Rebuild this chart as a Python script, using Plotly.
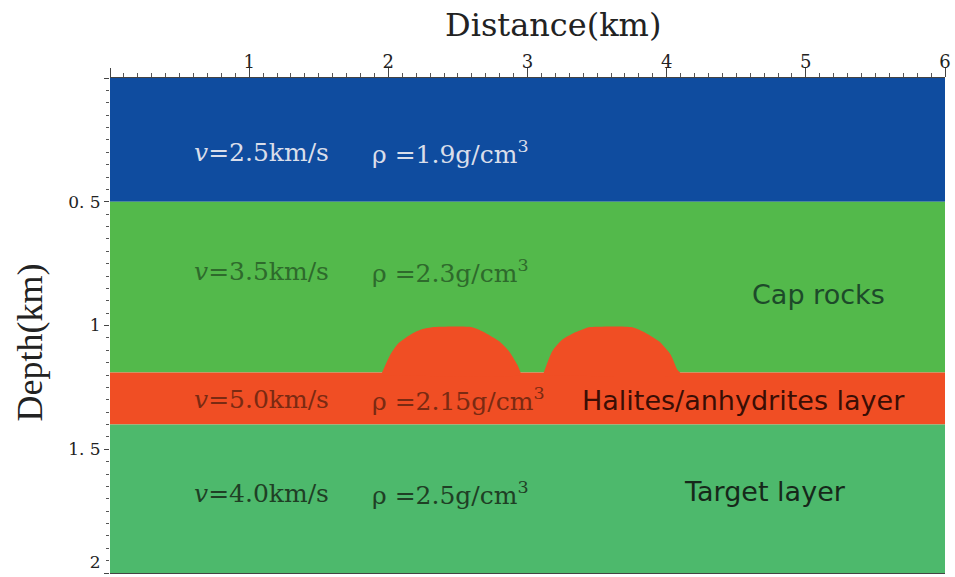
import plotly.graph_objects as go

# ---- data ----
distance_extent_km = [0.0, 6.0]
depth_extent_km = [0.0, 2.0]
interface_depths_km = [0.0, 0.5, 1.19, 1.40, 2.0]   # tops/bottoms of the layers

# top of the two salt domes rising from the halite/anhydrite layer
dome1_x_km = [1.955, 2.014, 2.074, 2.158, 2.230, 2.314, 2.602, 2.698, 2.794, 2.866, 2.926, 2.950]
dome1_depth_km = [1.19, 1.118, 1.071, 1.037, 1.017, 1.007, 1.007, 1.030, 1.063, 1.103, 1.158, 1.19]
dome2_x_km = [3.117, 3.178, 3.250, 3.333, 3.405, 3.441, 3.753, 3.849, 3.945, 4.029, 4.077, 4.096]
dome2_depth_km = [1.19, 1.104, 1.057, 1.030, 1.014, 1.007, 1.007, 1.030, 1.064, 1.118, 1.179, 1.19]

velocity_labels = ["2.5", "3.5", "5.0", "4.0"]
density_labels = ["1.9", "2.3", "2.15", "2.5"]
layer_names = ["Cap rocks", "Halites/anhydrites layer", "Target layer"]

x_tick_values = [0, 1, 2, 3, 4, 5, 6]
x_tick_text = ["", "1", "2", "3", "4", "5", "6"]
y_tick_values = [0, 0.5, 1, 1.5, 2]
y_tick_text = ["", "0. 5", "1", "1. 5", "2<br> "]

# ---- styles ----
BLUE = "#0F4C9F"
CAP_GREEN = "#53B94B"
SALT_RED = "#F04E24"
TARGET_GREEN = "#4DB96C"

x0, x1 = distance_extent_km
d = interface_depths_km

fig = go.Figure()

def band(top, bottom, color):
    fig.add_trace(go.Scatter(x=[x0, x1, x1, x0, x0], y=[top, top, bottom, bottom, top],
                             mode="lines", line=dict(width=0), fill="toself",
                             fillcolor=color, hoverinfo="skip", showlegend=False))

band(d[0], d[1], BLUE)
band(d[1], d[2], CAP_GREEN)
band(d[2], d[3], SALT_RED)
band(d[3], d[4], TARGET_GREEN)

for dx, dy in ((dome1_x_km, dome1_depth_km), (dome2_x_km, dome2_depth_km)):
    fig.add_trace(go.Scatter(x=dx + [dx[-1], dx[0]], y=dy + [d[2] + 0.01, d[2] + 0.01],
                             mode="lines", line=dict(width=0, shape="spline", smoothing=0.6),
                             fill="toself", fillcolor=SALT_RED, hoverinfo="skip", showlegend=False))

SERIF = "DejaVu Serif"
SANS = "DejaVu Sans"

label_rows = [0.30, 0.78, 1.30, 1.68]
label_colors = ["#D9DEEA", "#2E6A2C", "#7A2A12", "#1F3F25"]
annotations = []
for i in range(4):
    annotations.append(dict(x=0.59, y=label_rows[i], xref="x", yref="y", xanchor="left", yanchor="middle",
                            text="<i>v</i>=" + velocity_labels[i] + "km/s", showarrow=False,
                            font=dict(family=SERIF, size=25, color=label_colors[i])))
    annotations.append(dict(x=1.87, y=label_rows[i], xref="x", yref="y", xanchor="left", yanchor="middle",
                            text="ρ =" + density_labels[i] + "g/cm<sup>3</sup>", showarrow=False,
                            font=dict(family=SERIF, size=25, color=label_colors[i])))

annotations.append(dict(x=5.09, y=0.875, xref="x", yref="y", xanchor="center", yanchor="middle",
                        text=layer_names[0], showarrow=False,
                        font=dict(family=SANS, size=27, color="#1D4A2A")))
annotations.append(dict(x=3.38, y=1.305, xref="x", yref="y", xanchor="left", yanchor="middle",
                        text=layer_names[1], showarrow=False,
                        font=dict(family=SANS, size=27, color="#3A0E05")))
annotations.append(dict(x=4.71, y=1.67, xref="x", yref="y", xanchor="center", yanchor="middle",
                        text=layer_names[2], showarrow=False,
                        font=dict(family=SANS, size=27, color="#16281A")))

# axis titles
annotations.append(dict(x=0.5, y=1.0, xref="paper", yref="paper", xanchor="center", yanchor="bottom",
                        yshift=32, xshift=25, text="Distance(km)", showarrow=False,
                        font=dict(family=SERIF, size=32, color="#222222")))
annotations.append(dict(x=0.0, y=0.5, xref="paper", yref="paper", xanchor="center", yanchor="middle",
                        xshift=-81, yshift=-17, textangle=-90, text="Depth(km)", showarrow=False,
                        font=dict(family="Liberation Serif", size=36, color="#222222")))

fig.update_layout(
    width=955, height=577,
    margin=dict(l=110, r=10, t=78, b=4, autoexpand=False),
    paper_bgcolor="white", plot_bgcolor="white",
    annotations=annotations,
    xaxis=dict(range=distance_extent_km, side="top", showgrid=False, zeroline=False, automargin=False,
               tickmode="array", tickvals=x_tick_values, ticktext=x_tick_text,
               ticks="outside", ticklen=9, tickwidth=1, tickcolor="#444",
               ticklabeloverflow="allow", ticklabelstandoff=-7,
               showline=True, linecolor="#444", linewidth=1, mirror=True,
               tickfont=dict(family=SERIF, size=18, color="#222"),
               minor=dict(dtick=0.1, ticks="outside", ticklen=4, tickcolor="#555", showgrid=False)),
    yaxis=dict(range=[depth_extent_km[1], depth_extent_km[0]], showgrid=False, zeroline=False,
               automargin=False,
               tickmode="array", tickvals=y_tick_values, ticktext=y_tick_text,
               ticks="outside", ticklen=5, tickwidth=1, tickcolor="#444",
               ticklabeloverflow="allow",
               showline=False,
               tickfont=dict(family=SERIF, size=17, color="#222"),
               minor=dict(dtick=0.05, ticks="outside", ticklen=3, tickcolor="#555", showgrid=False)),
)

# drop the default 8px page margin so the 955x577 figure fills the window exactly
fig.write_html("out.html", config={"displayModeBar": False},
               post_script="document.body.style.margin='0px';document.body.style.overflow='hidden';")
